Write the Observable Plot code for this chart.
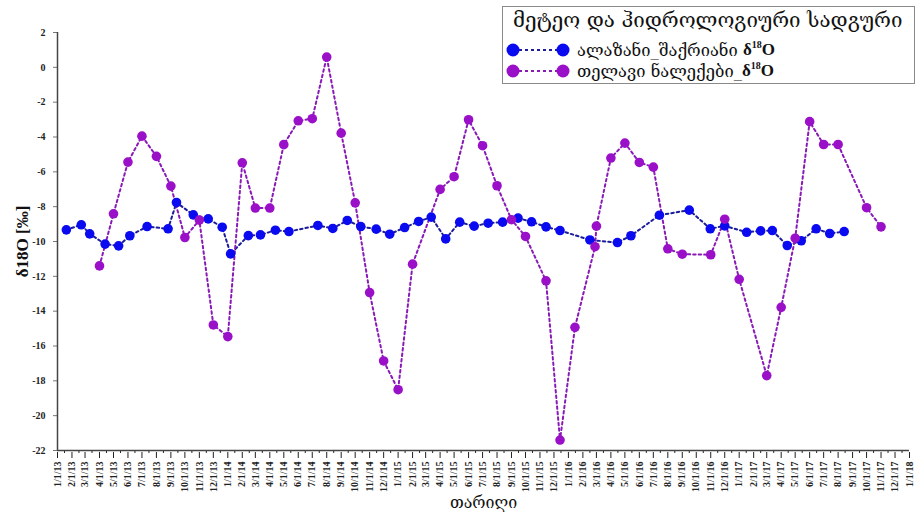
<!DOCTYPE html>
<html>
<head>
<meta charset="utf-8">
<script src="https://cdn.jsdelivr.net/npm/d3@7"></script>
<script src="https://cdn.jsdelivr.net/npm/@observablehq/plot@0.6"></script>
<style>
  html, body { margin: 0; padding: 0; background: #fff; }
  #wrap { position: relative; width: 919px; height: 516px; }
  #legend { position: absolute; left: 502px; top: 6px; width: 413px; height: 78px;
    border: 1px solid #8a8a8a; background: #fff; box-sizing: border-box;
    font-family: "DejaVu Serif", "DejaVu Sans", serif; color: #111; }
  #legend .title { position: absolute; left: 10px; top: 1px; font-size: 20.5px; white-space: nowrap; }
  #legend .row { position: absolute; left: 1px; height: 18px; display: flex; align-items: center; white-space: nowrap; font-size: 16.5px; }
  #legend .row svg { margin-right: 5px; }
  #legend b { font-family: "Liberation Serif", serif; font-size: 17px; }
</style>
</head>
<body>
<div id="wrap">
  <div id="chart"></div>
  <div id="legend"></div>
</div>
<script>
// ---- data ----
const blueName = "ალაზანი_შაქრიანი";
const purpleName = "თელავი ნალექები_";
const legendTitle = "მეტეო და ჰიდროლოგიური სადგური";
const xTitle = "თარიღი";
const yTitle = "δ18O [‰]";

const blueDates = ["2013-01-20","2013-02-21","2013-03-11","2013-04-13","2013-05-12","2013-06-05","2013-07-12","2013-08-26","2013-09-13","2013-10-19","2013-11-20","2013-12-20",
  "2014-01-07","2014-02-14","2014-03-12","2014-04-13","2014-05-12","2014-07-13","2014-08-14","2014-09-14","2014-10-13","2014-11-15","2014-12-14",
  "2015-01-15","2015-02-14","2015-03-13","2015-04-13","2015-05-13","2015-06-13","2015-07-13","2015-08-13","2015-09-15","2015-10-14","2015-11-14","2015-12-14",
  "2016-02-16","2016-04-15","2016-05-14","2016-07-14","2016-09-16","2016-10-31","2016-12-01",
  "2017-01-17","2017-02-16","2017-03-13","2017-04-14","2017-05-14","2017-06-15","2017-07-14","2017-08-14"];
const blueValues = [-9.33,-9.04,-9.56,-10.15,-10.25,-9.67,-9.14,-9.27,-7.76,-8.47,-8.70,-9.18,
  -10.71,-9.66,-9.62,-9.35,-9.43,-9.08,-9.25,-8.79,-9.14,-9.29,-9.58,
  -9.20,-8.85,-8.60,-9.85,-8.89,-9.12,-8.95,-8.89,-8.66,-8.87,-9.16,-9.37,
  -9.91,-10.06,-9.67,-8.49,-8.20,-9.27,-9.10,
  -9.47,-9.39,-9.37,-10.23,-9.96,-9.27,-9.54,-9.43];

const purpleDates = ["2013-04-01","2013-05-01","2013-06-01","2013-07-01","2013-08-01","2013-09-01","2013-10-01","2013-11-01","2013-12-01",
  "2014-01-01","2014-02-01","2014-03-01","2014-04-01","2014-05-01","2014-06-01","2014-07-01","2014-08-01","2014-09-01","2014-10-01","2014-11-01","2014-12-01",
  "2015-01-01","2015-02-01","2015-04-01","2015-05-01","2015-06-01","2015-07-01","2015-08-01","2015-09-01","2015-10-01","2015-11-14","2015-12-14",
  "2016-01-15","2016-02-27","2016-03-01","2016-04-01","2016-05-01","2016-06-01","2016-07-01","2016-08-01","2016-09-01","2016-11-01","2016-12-01",
  "2017-01-01","2017-03-01","2017-04-01","2017-05-01","2017-06-01","2017-07-01","2017-08-01","2017-10-01","2017-11-01"];
const purpleValues = [-11.40,-8.41,-5.44,-3.95,-5.11,-6.82,-9.77,-8.77,-14.79,
  -15.46,-5.48,-8.08,-8.08,-4.44,-3.07,-2.95,0.59,-3.78,-7.78,-12.93,-16.86,
  -18.51,-11.30,-7.01,-6.28,-3.01,-4.50,-6.80,-8.75,-9.71,-12.26,-21.40,
  -14.93,-10.30,-9.12,-5.21,-4.35,-5.46,-5.73,-10.42,-10.73,-10.76,-8.72,
  -12.17,-17.70,-13.78,-9.81,-3.12,-4.43,-4.43,-8.06,-9.16];

const yTicks = [2,0,-2,-4,-6,-8,-10,-12,-14,-16,-18,-20,-22];
const xStart = "2013-01-01", xEnd = "2018-01-01";

// ---- colours ----
const blueDot = "#0a0af0", blueLine = "#1c1c9c";
const purpleDot = "#9a0fc8", purpleLine = "#8a1ab8";

const parse = d3.utcParse("%Y-%m-%d");
const blue = blueDates.map((d, i) => ({date: parse(d), v: blueValues[i]}));
const purple = purpleDates.map((d, i) => ({date: parse(d), v: purpleValues[i]}));
const x0 = parse(xStart), x1 = parse(xEnd);
const monthTicks = d3.utcMonth.range(x0, d3.utcDay.offset(x1, 1));
const midTicks = d3.utcMonth.range(x0, x1).map(d => d3.utcDay.offset(d, 15));

const chart = Plot.plot({
  width: 919, height: 516,
  marginTop: 32, marginBottom: 66, marginLeft: 57, marginRight: 10,
  style: {fontFamily: "'Liberation Serif', serif", fontSize: "10px", fontWeight: "bold", color: "#222", background: "#fff"},
  x: {type: "utc", domain: [x0, x1]},
  y: {domain: [-22, 2]},
  marks: [
    Plot.axisY({ticks: yTicks, tickFormat: d => String(d), tickSize: 4, tickPadding: 8, label: null, fontSize: 10, stroke: "#777"}),
    Plot.axisX({ticks: monthTicks, tickFormat: d3.utcFormat("%-m/%-d/%y"), tickRotate: -90, tickSize: 6, tickPadding: 3, label: null, fontSize: 10, dy: 2}),
    Plot.axisX({ticks: midTicks, tickFormat: () => "", tickSize: 3, label: null}),
    Plot.ruleX([x0], {stroke: "#444", strokeWidth: 1.5}),
    Plot.ruleY([-22], {stroke: "#444", strokeWidth: 1.5}),
    Plot.line(blue, {x: "date", y: "v", stroke: blueLine, strokeWidth: 2, strokeDasharray: "2.5,3"}),
    Plot.line(purple, {x: "date", y: "v", stroke: purpleLine, strokeWidth: 2, strokeDasharray: "2.5,3"}),
    Plot.dot(blue, {x: "date", y: "v", r: 4.8, fill: blueDot}),
    Plot.dot(purple, {x: "date", y: "v", r: 4.8, fill: purpleDot}),
    Plot.text([yTitle], {text: d => d, frameAnchor: "left", rotate: -90, dx: -35, textAnchor: "middle", fontSize: 17, fontWeight: "bold", fill: "#111"}),
    Plot.text([xTitle], {text: d => d, frameAnchor: "bottom", dy: 57, textAnchor: "middle", fontSize: 16, fontWeight: "normal", fill: "#111", fontFamily: "'DejaVu Serif', 'DejaVu Sans', serif"})
  ]
});
document.getElementById("chart").appendChild(chart);

// ---- legend ----
function marker(col, lineCol) {
  return `<svg width="68" height="16"><line x1="9" y1="8" x2="59" y2="8" stroke="${lineCol}" stroke-width="2" stroke-dasharray="3,3"/>` +
    `<circle cx="9" cy="8" r="6.5" fill="${col}"/><circle cx="59" cy="8" r="6.5" fill="${col}"/></svg>`;
}
const lg = document.getElementById("legend");
lg.innerHTML = `<div class="title">${legendTitle}</div>` +
  `<div class="row" style="top:34px">${marker(blueDot, blueLine)}<span>${blueName} <b>δ<sup style="font-size:10px">18</sup>O</b></span></div>` +
  `<div class="row" style="top:55px">${marker(purpleDot, purpleLine)}<span>${purpleName}<b>δ<sup style="font-size:10px">18</sup>O</b></span></div>`;
</script>
</body>
</html>
